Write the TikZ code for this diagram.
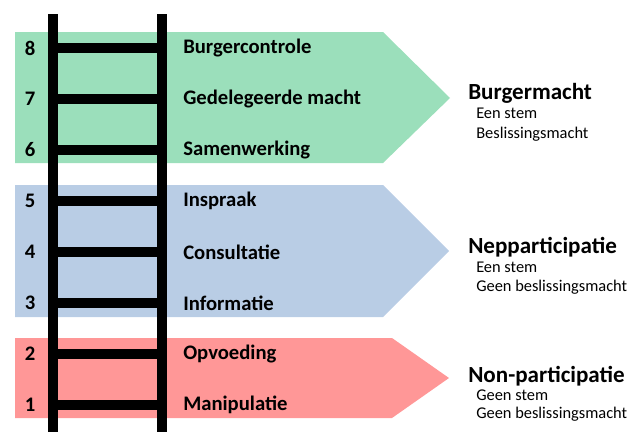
\documentclass[tikz,border=0pt]{standalone}
\usepackage{fontspec}
\setmainfont{Carlito}
\definecolor{bandgreen}{RGB}{155,223,187}
\definecolor{bandblue}{RGB}{185,205,229}
\definecolor{bandred}{RGB}{255,151,151}
\begin{document}
\begin{tikzpicture}[x=0.75pt,y=-0.75pt,node distance=38.25pt,
    rail/.style={line width=7.5pt},
    step node/.style={inner sep=0pt,font=\fontsize{15.5}{18}\selectfont\bfseries},
    group node/.style={inner sep=0pt,anchor=base west,font=\fontsize{17.3}{20}\selectfont\bfseries},
    sub node/.style={inner sep=0pt,anchor=base west,font=\fontsize{12.3}{14}\selectfont}]
    \useasboundingbox (0,0) rectangle (639,432);
    % bands
    \fill[bandgreen] (15,32) -- (383,32) -- (450,98) -- (383,163) -- (15,163) -- cycle;
    \fill[bandblue] (15,185) -- (383,185) -- (449,251) -- (383,317) -- (15,317) -- cycle;
    \fill[bandred] (15,338) -- (392,338) -- (449,378) -- (392,418) -- (15,418) -- cycle;
    % ladder
    \draw[rail] (53,14) -- (53,432);
    \draw[rail] (162,14) -- (162,432);
    \foreach \i in {0,...,7}
        \draw[rail] (58,{47.5+51*\i}) -- (157,{47.5+51*\i});
    % steps
    \node[step node] (8) at (30,48) {8};
    \node[step node] (7) [below of=8] {7};
    \node[step node] (6) [below of=7] {6};
    \node[step node] (5) [below of=6] {5};
    \node[step node] (4) [below of=5] {4};
    \node[step node] (3) [below of=4] {3};
    \node[step node] (2) [below of=3] {2};
    \node[step node] (1) [below of=2] {1};
    \node[step node] (burgercontrole) [right of=8,node distance=114.75pt,anchor=west] {Burgercontrole};
    \node[step node] (gedelegeerd) [right of=7,node distance=114.75pt,anchor=west] {Gedelegeerde macht};
    \node[step node] (samenwerking) [right of=6,node distance=114.75pt,anchor=west] {Samenwerking};
    \node[step node] (inspraak) [right of=5,node distance=114.75pt,anchor=west] {Inspraak};
    \node[step node] (consultatie) [right of=4,node distance=114.75pt,anchor=west] {Consultatie};
    \node[step node] (informatie) [right of=3,node distance=114.75pt,anchor=west] {Informatie};
    \node[step node] (opvoeding) [right of=2,node distance=114.75pt,anchor=west] {Opvoeding};
    \node[step node] (manipulatie) [right of=1,node distance=114.75pt,anchor=west] {Manipulatie};
    % groups
    \node[group node] (burgermacht) at (468,99) {Burgermacht};
    \node[sub node] (bm1) at (476,118) {Een stem};
    \node[sub node] (bm2) at (476,138) {Beslissingsmacht};
    \node[group node] (nep) at (468,253) {Nepparticipatie};
    \node[sub node] (nep1) at (476,272) {Een stem};
    \node[sub node] (nep2) at (476,291) {Geen beslissingsmacht};
    \node[group node] (non) at (468,382) {Non-participatie};
    \node[sub node] (non1) at (476,400) {Geen stem};
    \node[sub node] (non2) at (476,418) {Geen beslissingsmacht};
\end{tikzpicture}
\end{document}
